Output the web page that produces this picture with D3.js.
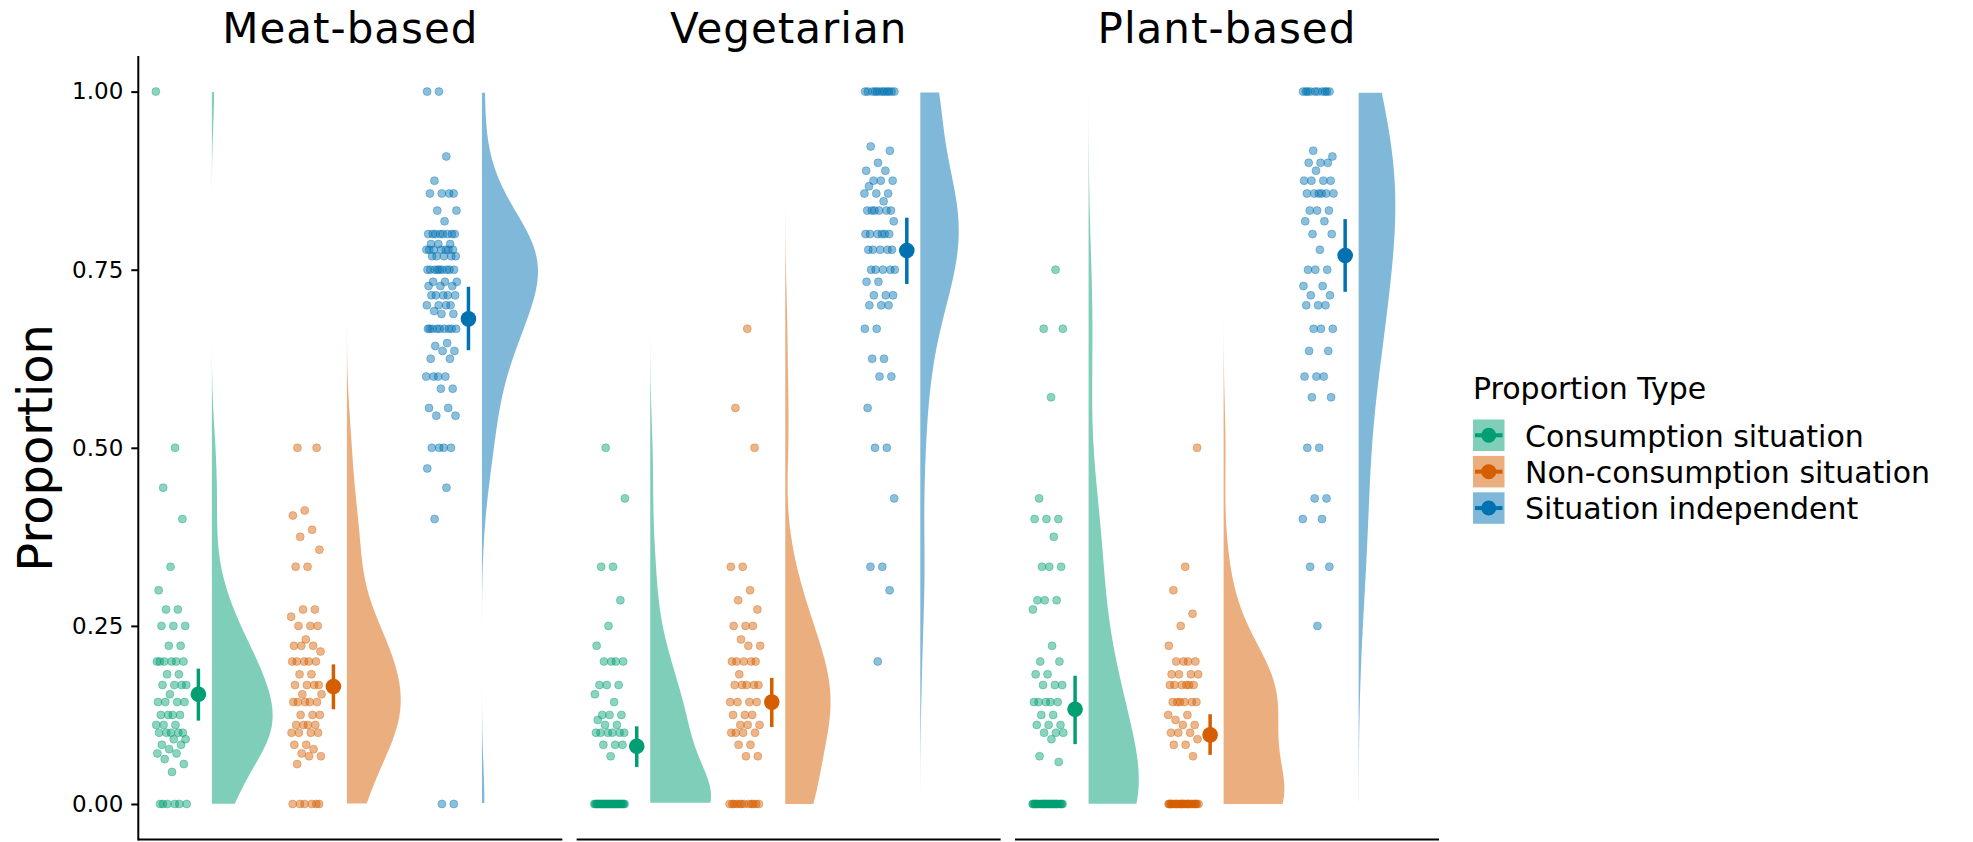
<!DOCTYPE html>
<html lang="en">
<head>
<meta charset="utf-8">
<title>Proportion by diet</title>
<script src="https://d3js.org/d3.v7.min.js"></script>
<style>
  body { margin: 0; background: #fff; }
  text { font-family: "DejaVu Sans", sans-serif; fill: #000; }
</style>
</head>
<body>
<div id="chart"></div>
<script>
// facets and groups
var facets = ["Meat-based", "Vegetarian", "Plant-based"];
var types = ["Consumption situation", "Non-consumption situation", "Situation independent"];
var colors = ["#009E73", "#D55E00", "#0072B2"];
var yTicks = [0, 0.25, 0.5, 0.75, 1];

// individual proportions (overlapping dots repeated)
var meatConsumption = [1, 0.5, 0.444, 0.4, 0.333, 0.3, 0.273, 0.273, 0.25, 0.25, 0.25, 0.222, 0.222,
  0.2, 0.2, 0.2, 0.2, 0.2, 0.2, 0.182, 0.182, 0.167, 0.167, 0.167, 0.167, 0.154,
  0.143, 0.143, 0.143, 0.143, 0.125, 0.125, 0.125, 0.125, 0.111, 0.111, 0.111,
  0.1, 0.1, 0.1, 0.1, 0.1, 0.091, 0.091, 0.083, 0.083, 0.077, 0.071, 0.071, 0.063, 0.056, 0.045,
  0, 0, 0, 0, 0, 0];
var meatNonConsumption = [0.5, 0.5, 0.412, 0.405, 0.385, 0.375, 0.357, 0.333, 0.333, 0.273, 0.273, 0.263,
  0.25, 0.25, 0.25, 0.231, 0.222, 0.222, 0.222, 0.214, 0.2, 0.2, 0.2, 0.2, 0.2, 0.182, 0.182,
  0.167, 0.167, 0.167, 0.167, 0.154, 0.154, 0.143, 0.143, 0.143, 0.143, 0.143, 0.125, 0.125, 0.125,
  0.111, 0.111, 0.111, 0.111, 0.1, 0.1, 0.1, 0.1, 0.083, 0.083, 0.077, 0.071, 0.067, 0.067, 0.056,
  0, 0, 0, 0, 0, 0];
var meatIndependent = [1, 1, 0.909, 0.875, 0.857, 0.857, 0.857, 0.857, 0.833, 0.833, 0.818,
  0.8, 0.8, 0.8, 0.8, 0.8, 0.8, 0.8, 0.8, 0.786, 0.786, 0.786,
  0.778, 0.778, 0.778, 0.778, 0.778, 0.778, 0.778,
  0.769, 0.769, 0.769, 0.769, 0.769, 0.75, 0.75, 0.75, 0.75, 0.75, 0.75, 0.75, 0.75, 0.75,
  0.733, 0.733, 0.733, 0.727, 0.727, 0.727,
  0.714, 0.714, 0.714, 0.714, 0.714, 0.7, 0.7, 0.7, 0.7, 0.692, 0.688, 0.688,
  0.667, 0.667, 0.667, 0.667, 0.667, 0.667, 0.667, 0.667, 0.667, 0.647, 0.643, 0.636, 0.636,
  0.625, 0.625, 0.6, 0.6, 0.6, 0.6, 0.583, 0.583, 0.556, 0.556, 0.545, 0.545, 0.5, 0.5, 0.5, 0.5,
  0.471, 0.444, 0.4, 0, 0];

var vegConsumption = [0.5, 0.429, 0.333, 0.333, 0.286, 0.25, 0.222, 0.2, 0.2, 0.2, 0.2,
  0.167, 0.167, 0.167, 0.154, 0.143, 0.125, 0.125, 0.125, 0.118, 0.111, 0.111,
  0.1, 0.1, 0.1, 0.1, 0.1, 0.1, 0.083, 0.083, 0.083, 0.067,
  0, 0, 0, 0, 0, 0, 0, 0, 0, 0, 0, 0, 0, 0, 0, 0, 0,
  0, 0, 0, 0, 0, 0, 0, 0, 0, 0, 0, 0, 0, 0, 0, 0, 0];
var vegNonConsumption = [0.667, 0.556, 0.5, 0.333, 0.333, 0.3, 0.286, 0.273, 0.25, 0.25, 0.25,
  0.231, 0.222, 0.222, 0.2, 0.2, 0.2, 0.2, 0.2, 0.182, 0.167, 0.167, 0.167, 0.167, 0.167,
  0.143, 0.143, 0.143, 0.143, 0.125, 0.125, 0.125, 0.111, 0.111, 0.111,
  0.1, 0.1, 0.1, 0.1, 0.083, 0.083, 0.067, 0.067,
  0, 0, 0, 0, 0, 0, 0, 0, 0, 0, 0, 0];
var vegIndependent = [1, 1, 1, 1, 1, 1, 1, 1, 1, 1, 1, 1, 0.923, 0.917, 0.9, 0.889, 0.889,
  0.875, 0.875, 0.875, 0.867, 0.857, 0.857, 0.857, 0.846, 0.833, 0.833, 0.833, 0.833, 0.833, 0.833,
  0.818, 0.8, 0.8, 0.8, 0.8, 0.8, 0.8, 0.778, 0.778, 0.778, 0.778, 0.778,
  0.75, 0.75, 0.75, 0.75, 0.75, 0.733, 0.733, 0.714, 0.714, 0.714, 0.7, 0.7, 0.7,
  0.667, 0.667, 0.625, 0.625, 0.6, 0.6, 0.556, 0.5, 0.5, 0.429, 0.333, 0.333, 0.3, 0.2];

var plantConsumption = [0.75, 0.667, 0.667, 0.571, 0.429, 0.4, 0.4, 0.4, 0.375, 0.333, 0.333, 0.333,
  0.286, 0.286, 0.286, 0.273, 0.222, 0.2, 0.2, 0.182, 0.182, 0.167, 0.167, 0.167,
  0.143, 0.143, 0.143, 0.143, 0.143, 0.125, 0.125, 0.111, 0.111, 0.111, 0.1, 0.1, 0.1,
  0.091, 0.067, 0.059,
  0, 0, 0, 0, 0, 0, 0, 0, 0, 0, 0, 0, 0, 0, 0, 0, 0, 0, 0, 0, 0, 0,
  0, 0, 0, 0, 0, 0, 0, 0, 0, 0];
var plantNonConsumption = [0.5, 0.333, 0.3, 0.267, 0.25, 0.222, 0.2, 0.2, 0.2, 0.2,
  0.182, 0.182, 0.182, 0.182, 0.167, 0.167, 0.167, 0.167, 0.167, 0.167,
  0.143, 0.143, 0.143, 0.143, 0.143, 0.143, 0.125, 0.125, 0.118, 0.111, 0.111,
  0.1, 0.1, 0.1, 0.091, 0.083, 0.083, 0.067,
  0, 0, 0, 0, 0, 0, 0, 0, 0, 0, 0, 0, 0, 0, 0, 0, 0, 0, 0, 0,
  0, 0, 0, 0, 0, 0, 0, 0];
var plantIndependent = [1, 1, 1, 1, 1, 1, 1, 1, 1, 1, 0.917, 0.909, 0.9, 0.9, 0.9, 0.889,
  0.875, 0.875, 0.875, 0.875, 0.857, 0.857, 0.857, 0.857, 0.857, 0.857, 0.833, 0.833, 0.833,
  0.818, 0.818, 0.8, 0.8, 0.778, 0.75, 0.75, 0.75, 0.727, 0.727, 0.714, 0.714,
  0.7, 0.7, 0.7, 0.667, 0.667, 0.667, 0.636, 0.636, 0.6, 0.6, 0.6, 0.571, 0.571,
  0.5, 0.5, 0.429, 0.429, 0.4, 0.4, 0.333, 0.333, 0.25];

// mean and interval per facet (rows) and type (columns)
var means = [[0.154, 0.165, 0.681], [0.081, 0.143, 0.777], [0.133, 0.097, 0.770]];
var lower = [[0.117, 0.133, 0.637], [0.052, 0.108, 0.730], [0.084, 0.069, 0.719]];
var upper = [[0.190, 0.196, 0.726], [0.109, 0.177, 0.823], [0.180, 0.126, 0.821]];

var groups = [
  [meatConsumption, meatNonConsumption, meatIndependent],
  [vegConsumption, vegNonConsumption, vegIndependent],
  [plantConsumption, plantNonConsumption, plantIndependent]
];

var width = 1973, height = 842;
var panelW = 424, panelStep = 438.35, panelX0 = 138.3;
var plotTop = 56, plotBottom = 839.6;
var bwAdjust = 1.5;

var svg = d3.select("#chart").append("svg")
  .attr("width", width)
  .attr("height", height);

var y = d3.scaleLinear().domain([-0.05, 1.05]).range([plotBottom, plotTop]);

// kernel density like R's density() with bw.nrd0, cut = 3
function density(values) {
  var n = values.length;
  var sorted = values.slice().sort(d3.ascending);
  var sd = d3.deviation(values);
  var iqr = d3.quantile(sorted, 0.75) - d3.quantile(sorted, 0.25);
  var bw = bwAdjust * 0.9 * Math.min(sd, iqr / 1.34) * Math.pow(n, -0.2);
  var lo = d3.min(values) - 3 * bw, hi = d3.max(values) + 3 * bw;
  var pts = [];
  for (var k = 0; k < 512; k++) {
    var v = lo + (hi - lo) * k / 511;
    var s = 0;
    for (var j = 0; j < n; j++) {
      var z = (v - values[j]) / bw;
      s += Math.exp(-0.5 * z * z);
    }
    pts.push({v: v, d: s / (n * bw * Math.sqrt(2 * Math.PI))});
  }
  return pts;
}

facets.forEach(function(facet, f) {
  var x0 = panelX0 + f * panelStep;
  var x = d3.scaleLinear().domain([0.455, 3.595]).range([x0, x0 + panelW]);
  var g = svg.append("g");

  // half violins, scaled to the widest one in the panel
  var dens = groups[f].map(density);
  var maxD = d3.max(dens, function(p) { return d3.max(p, function(d) { return d.d; }); });
  dens.forEach(function(pts, t) {
    var c = t + 1;
    var inside = pts.filter(function(d) { return d.v >= 0 && d.v <= 1; });
    var area = d3.area()
      .x0(x(c))
      .x1(function(d) { return x(c + 0.45 * d.d / maxD); })
      .y(function(d) { return y(d.v); });
    g.append("path")
      .attr("d", area(inside))
      .attr("fill", colors[t])
      .attr("fill-opacity", 0.5);
  });

  // jittered raw points
  groups[f].forEach(function(vals, t) {
    var c = t + 1;
    g.append("g").selectAll("circle")
      .data(vals)
      .enter().append("circle")
      .attr("cx", function(d, i) {
        var j = ((i * 0.6180339887 + f * 0.37 + t * 0.21) % 1) - 0.5;
        return x(c - 0.3 + j * 0.23);
      })
      .attr("cy", function(d) { return y(d); })
      .attr("r", 4)
      .attr("fill", colors[t])
      .attr("fill-opacity", 0.45)
      .attr("stroke", colors[t])
      .attr("stroke-opacity", 0.35)
      .attr("stroke-width", 1);
  });

  // mean with interval
  types.forEach(function(tp, t) {
    var cx = x(t + 1 - 0.1);
    g.append("line")
      .attr("x1", cx).attr("x2", cx)
      .attr("y1", y(lower[f][t])).attr("y2", y(upper[f][t]))
      .attr("stroke", colors[t])
      .attr("stroke-width", 3.5);
    g.append("circle")
      .attr("cx", cx).attr("cy", y(means[f][t]))
      .attr("r", 7.8)
      .attr("fill", colors[t]);
  });

  // bottom axis line (no ticks on x)
  g.append("line")
    .attr("x1", x0).attr("x2", x0 + panelW)
    .attr("y1", plotBottom).attr("y2", plotBottom)
    .attr("stroke", "#000").attr("stroke-width", 2);

  // facet title
  g.append("text")
    .attr("x", x0 + panelW / 2)
    .attr("y", 43)
    .attr("text-anchor", "middle")
    .style("font-size", "42px")
    .style("letter-spacing", "1px")
    .text(facet);
});

// y axis on the first panel only
var yAxis = svg.append("g")
  .attr("transform", "translate(" + panelX0 + ",0)")
  .call(d3.axisLeft(y).tickValues(yTicks).tickFormat(d3.format(".2f")).tickSize(7).tickPadding(8));
yAxis.select(".domain").attr("stroke", "#000").attr("stroke-width", 2)
  .attr("d", "M0," + plotTop + "V" + (plotBottom + 1));
yAxis.selectAll(".tick line").attr("stroke", "#000").attr("stroke-width", 2);
yAxis.selectAll(".tick text")
  .style("font-family", "'DejaVu Sans', sans-serif")
  .style("font-size", "23px")
  .attr("fill", "#1a1a1a");

svg.append("text")
  .attr("transform", "translate(52," + ((plotTop + plotBottom) / 2) + ") rotate(-90)")
  .attr("text-anchor", "middle")
  .style("font-size", "48px")
  .text("Proportion");

// legend
var legend = svg.append("g").attr("transform", "translate(1473,0)");
legend.append("text")
  .attr("x", 0).attr("y", 399)
  .style("font-size", "30px")
  .text("Proportion Type");
types.forEach(function(tp, t) {
  var ky = 419.5 + t * 36.4;
  legend.append("rect")
    .attr("x", 0).attr("y", ky)
    .attr("width", 31.5).attr("height", 31.5)
    .attr("fill", colors[t]).attr("fill-opacity", 0.5);
  legend.append("line")
    .attr("x1", 2).attr("x2", 29.5)
    .attr("y1", ky + 15.75).attr("y2", ky + 15.75)
    .attr("stroke", colors[t]).attr("stroke-width", 4);
  legend.append("circle")
    .attr("cx", 15.75).attr("cy", ky + 15.75)
    .attr("r", 7.5)
    .attr("fill", colors[t]);
  legend.append("text")
    .attr("x", 52).attr("y", ky + 27)
    .style("font-size", "30px")
    .text(tp);
});
</script>
</body>
</html>
